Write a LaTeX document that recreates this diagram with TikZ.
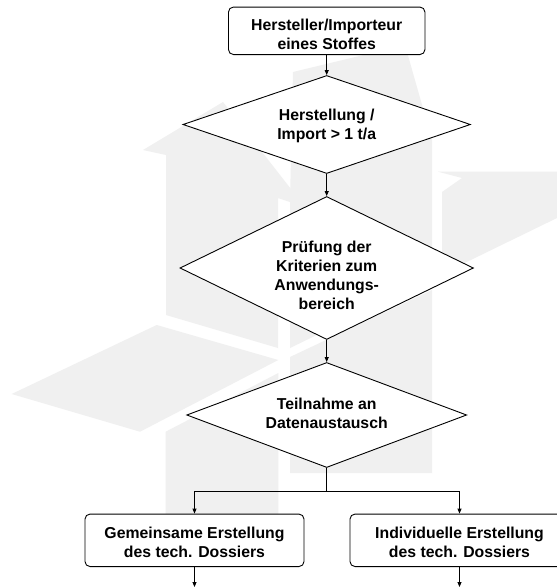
\documentclass[tikz,border=0pt]{standalone}
\usepackage{fontspec}
\setmainfont{Liberation Sans}
\usetikzlibrary{shapes.geometric,arrows.meta}
\definecolor{wm}{RGB}{240,240,240}
\begin{document}
\begin{tikzpicture}[x=1pt,y=-1pt,
  box/.style={draw=black, line width=0.9pt, rounded corners=5pt, fill=white, inner sep=0pt},
  dia/.style={draw=black, line width=0.9pt, diamond, fill=white, inner sep=0pt},
  lbl/.style={align=center, inner sep=0pt, font=\fontsize{15.8}{19}\selectfont\bfseries},
  conn/.style={line width=0.9pt, -{Triangle[length=5pt,width=4pt]}},
  plain/.style={line width=0.9pt},
  wmark/.style={fill=wm, draw=none}]
\path[use as bounding box, clip] (0,0) rectangle (557,587);
\fill[white] (0,0) rectangle (557,587);
% watermark
\fill[wmark] (143,150) -- (223,102) -- (305,207) -- (278,198) -- (278,348) -- (166,315) -- (166,155) -- cycle;
\fill[wmark] (293,72) -- (405,45) -- (432,140) -- (432,279) -- (290,348) -- (290,200) -- cycle;
\fill[wmark] (438,171.7) -- (557,171.7) -- (557,218) -- (442,274) -- (442,192) -- (462,178) -- cycle;
\fill[wmark] (290,357) -- (432,290) -- (432,473) -- (290,473) -- cycle;
\fill[wmark] (11.7,394) -- (156.7,325) -- (278.3,360) -- (140,431.7) -- cycle;
\fill[wmark] (165.7,431.7) -- (278.3,373) -- (278.3,514) -- (165.7,514) -- cycle;
% nodes
\node[box, minimum width=196.5pt, minimum height=47.5pt] (src) at (326.7,30.8) {};
\node[lbl] (srct) at (326.7,34) {Hersteller/Importeur\\eines Stoffes};
\node[dia, minimum width=287.5pt, minimum height=98pt] (d1) at (326.7,124.5) {};
\node[lbl] (d1t) at (326.7,126.3) {Herstellung /\\Import > 1 t/a};
\node[dia, minimum width=293.5pt, minimum height=143pt] (d2) at (326.7,268) {};
\node[lbl] (d2t) at (326.7,275) {Prüfung der\\Kriterien zum\\Anwendungs-\\bereich};
\node[dia, minimum width=280pt, minimum height=105pt] (d3) at (326.7,415) {};
\node[lbl] (d3t) at (326.7,413.5) {Teilnahme an\\Datenaustausch};
\node[box, minimum width=219pt, minimum height=52.5pt] (b1) at (194.5,540.3) {};
\node[lbl] (b1t) at (194.5,542.8) {Gemeinsame Erstellung\\des tech. Dossiers};
\node[box, minimum width=219pt, minimum height=52.5pt] (b2) at (459.5,540.3) {};
\node[lbl] (b2t) at (459.5,542.8) {Individuelle Erstellung\\des tech. Dossiers};
\coordinate (j) at (326.7,491);
\coordinate (o1) at (194.5,587);
\coordinate (o2) at (459.5,587);
% connectors
\draw[conn] (src.south) -- (d1.north);
\draw[conn] (d1.south) -- (d2.north);
\draw[conn] (d2.south) -- (d3.north);
\draw[plain] (d3.south) -- (j);
\draw[conn] (j) -| (b1.north);
\draw[conn] (j) -| (b2.north);
\draw[conn] (b1.south) -- (o1);
\draw[conn] (b2.south) -- (o2);
\end{tikzpicture}
\end{document}
